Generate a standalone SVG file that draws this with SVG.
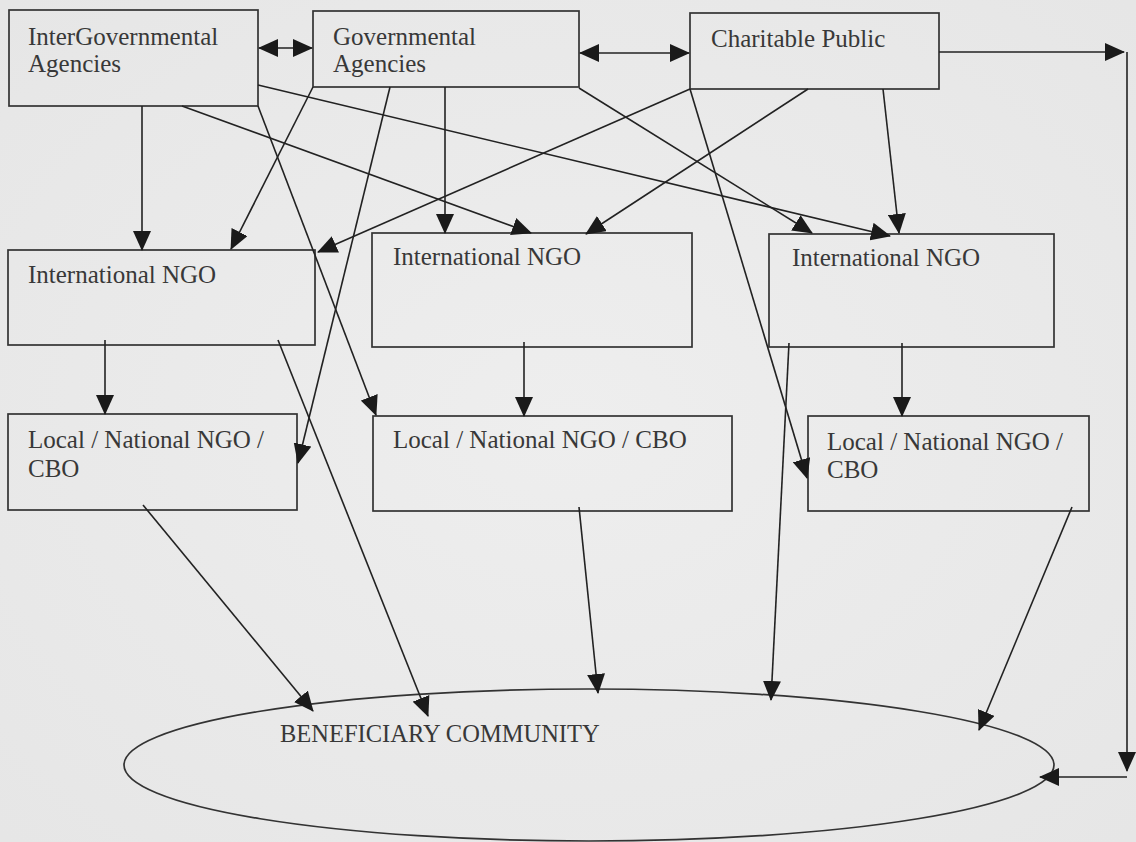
<svg xmlns="http://www.w3.org/2000/svg" width="1136" height="842" viewBox="0 0 1136 842">
  <defs>
    <marker id="ah" viewBox="0 0 20 18" refX="19" refY="9" markerWidth="20" markerHeight="18" markerUnits="userSpaceOnUse" orient="auto-start-reverse">
      <path d="M0,0 L20,9 L0,18 z" fill="#1a1a1a"/>
    </marker>
    <radialGradient id="bg" cx="50%" cy="50%" r="70%">
      <stop offset="0" stop-color="#eeeeee"/>
      <stop offset="1" stop-color="#e6e6e6"/>
    </radialGradient>
  </defs>
  <style>
    .box { fill: none; stroke: #333; stroke-width: 1.7; }
    .lbl { font-family: "Liberation Serif", "Times New Roman", serif; font-size: 25px; fill: #383838; }
    .c line { stroke: #222; stroke-width: 1.6; fill: none; marker-end: url(#ah); }
    .c .both { marker-start: url(#ah); }
  </style>
  <rect x="0" y="0" width="1136" height="842" fill="url(#bg)"/>

  <g id="intergovernmental">
    <rect class="box" x="9" y="10" width="249" height="96"/>
    <text class="lbl" x="28" y="45">InterGovernmental</text>
    <text class="lbl" x="28" y="72">Agencies</text>
  </g>
  <g id="governmental">
    <rect class="box" x="313" y="11" width="266" height="76"/>
    <text class="lbl" x="333" y="45">Governmental</text>
    <text class="lbl" x="333" y="72">Agencies</text>
  </g>
  <g id="charitable">
    <rect class="box" x="690" y="13" width="249" height="76"/>
    <text class="lbl" x="711" y="47">Charitable Public</text>
  </g>

  <g id="intl-ngo-1">
    <rect class="box" x="8" y="250" width="307" height="95"/>
    <text class="lbl" x="28" y="283">International NGO</text>
  </g>
  <g id="intl-ngo-2">
    <rect class="box" x="372" y="233" width="320" height="114"/>
    <text class="lbl" x="393" y="265">International NGO</text>
  </g>
  <g id="intl-ngo-3">
    <rect class="box" x="769" y="234" width="285" height="113"/>
    <text class="lbl" x="792" y="266">International NGO</text>
  </g>

  <g id="local-1">
    <rect class="box" x="8" y="414" width="289" height="96"/>
    <text class="lbl" x="28" y="448">Local / National NGO /</text>
    <text class="lbl" x="28" y="477">CBO</text>
  </g>
  <g id="local-2">
    <rect class="box" x="373" y="416" width="359" height="95"/>
    <text class="lbl" x="393" y="448">Local / National NGO / CBO</text>
  </g>
  <g id="local-3">
    <rect class="box" x="808" y="416" width="281" height="95"/>
    <text class="lbl" x="827" y="450">Local / National NGO /</text>
    <text class="lbl" x="827" y="478">CBO</text>
  </g>

  <g id="beneficiary">
    <ellipse class="box" cx="589" cy="765" rx="465" ry="76"/>
    <text class="lbl" x="280" y="742" style="font-size:24.5px">BENEFICIARY COMMUNITY</text>
  </g>

  <g id="connectors" class="c">
    <line class="both" x1="259" y1="48" x2="312" y2="48"/>
    <line class="both" x1="580" y1="53" x2="689" y2="53"/>
    <line x1="939" y1="52" x2="1124" y2="52"/>
    <line x1="1127" y1="52" x2="1127" y2="771"/>
    <line x1="1127" y1="777" x2="1040" y2="777"/>

    <line x1="142" y1="106" x2="142" y2="250"/>
    <line x1="313" y1="87" x2="231" y2="249"/>
    <line x1="690" y1="89" x2="318" y2="252"/>
    <line x1="258" y1="106" x2="376" y2="415"/>
    <line x1="182" y1="106" x2="531" y2="233"/>
    <line x1="258" y1="85" x2="890" y2="236"/>
    <line x1="445" y1="87" x2="445" y2="233"/>
    <line x1="390" y1="87" x2="298" y2="463"/>
    <line x1="579" y1="88" x2="812" y2="233"/>
    <line x1="808" y1="89" x2="586" y2="234"/>
    <line x1="883" y1="89" x2="899" y2="233"/>
    <line x1="690" y1="89" x2="807" y2="478"/>

    <line x1="105" y1="340" x2="105" y2="414"/>
    <line x1="524" y1="342" x2="524" y2="416"/>
    <line x1="902" y1="343" x2="902" y2="416"/>

    <line x1="278" y1="340" x2="428" y2="716"/>
    <line x1="143" y1="505" x2="313" y2="711"/>
    <line x1="579" y1="507" x2="598" y2="693"/>
    <line x1="789" y1="343" x2="771" y2="700"/>
    <line x1="1072" y1="507" x2="979" y2="730"/>
  </g>
</svg>
